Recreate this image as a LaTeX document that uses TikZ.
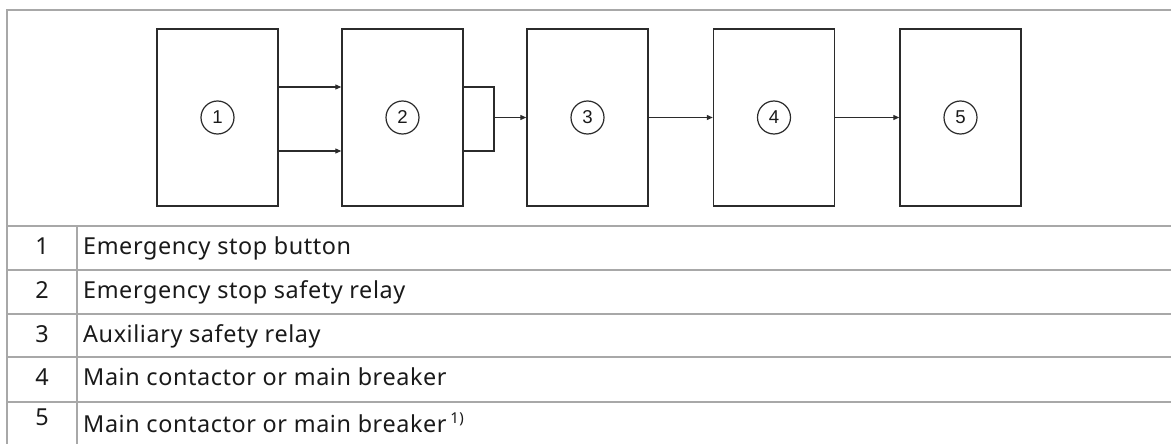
\documentclass[tikz,border=0pt]{standalone}
\usepackage{fontspec}
\setmainfont{Liberation Sans}
\newfontfamily\tabfont{Noto Sans}[LetterSpace=2.5]
\usetikzlibrary{arrows.meta}
\definecolor{grid}{HTML}{A8A8A8}
\definecolor{ink}{HTML}{2B2B2B}
\definecolor{txt}{HTML}{1A1A1A}
\begin{document}
\begin{tikzpicture}[x=1pt,y=-1pt,
  blk/.style={draw=ink,line width=1.4pt,minimum width=121pt,minimum height=177pt,inner sep=0pt},
  num/.style={draw=ink,circle,line width=1.2pt,minimum size=33pt,inner sep=0pt,font=\fontsize{18.6}{18.6}\selectfont,text=txt},
  arr/.style={draw=ink,line width=1.1pt,-{Triangle[length=6pt,width=5pt]}},
  ln/.style={draw=ink,line width=1.1pt},
  gridline/.style={draw=grid,line width=2pt},
  lbl/.style={anchor=base west,inner sep=0pt,text=txt,font=\tabfont\fontsize{23.4}{23.4}\selectfont},
  idx/.style={anchor=base,inner sep=0pt,text=txt,font=\tabfont\fontsize{23.4}{23.4}\selectfont}]
\useasboundingbox (0,0) rectangle (1171,444);
\fill[white] (0,0) rectangle (1171,444);
% table grid
\draw[gridline] (7,444) -- (7,10) -- (1171,10);
\foreach \yy in {226,270,314,357,402} \draw[gridline] (7,\yy) -- (1171,\yy);
\draw[gridline] (77,226) -- (77,444);
% blocks
\node[blk] (b1) at (217.5,117.5) {};
\node[blk] (b2) at (402.5,117.5) {};
\node[blk] (b3) at (587.5,117.5) {};
\node[blk] (b4) at (774,117.5) {};
\node[blk] (b5) at (960.5,117.5) {};
\node[num] (c1) at (b1) {1};
\node[num] (c2) at (b2) {2};
\node[num] (c3) at (b3) {3};
\node[num] (c4) at (b4) {4};
\node[num] (c5) at (b5) {5};
\coordinate (ya) at (0,87);
\coordinate (yb) at (0,151);
\coordinate (br) at (494,117.5);
\draw[arr] (b1.east |- ya) -- (b2.west |- ya);
\draw[arr] (b1.east |- yb) -- (b2.west |- yb);
\draw[ln] (b2.east |- ya) -| (br) |- (b2.east |- yb);
\draw[arr] (br) -- (b3.west);
\draw[arr] (b3.east) -- (b4.west);
\draw[arr] (b4.east) -- (b5.west);
% table text
\node[idx] (n1) at (42,254) {1};
\node[idx] (n2) at (42,298) {2};
\node[idx] (n3) at (42,342) {3};
\node[idx] (n4) at (42,385) {4};
\node[idx] (n5) at (42,425) {5};
\node[lbl] (t1) at (83,254) {Emergency stop button};
\node[lbl] (t2) at (83,298) {Emergency stop safety relay};
\node[lbl] (t3) at (83,342) {Auxiliary safety relay};
\node[lbl] (t4) at (83,385) {Main contactor or main breaker};
\node[lbl] (t5) at (83,432) {Main contactor or main breaker\,\raisebox{9pt}{\fontsize{15}{15}\selectfont 1)}};
\end{tikzpicture}
\end{document}
